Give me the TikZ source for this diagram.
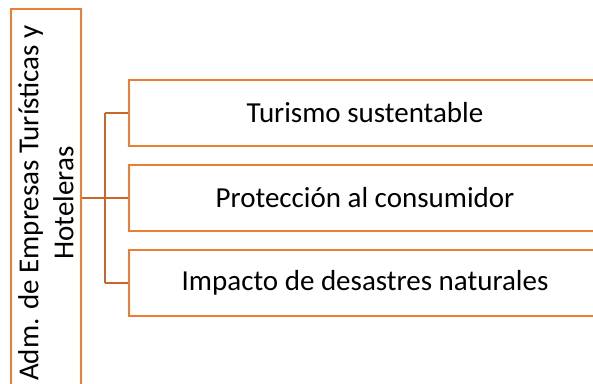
\documentclass[tikz,border=0pt]{standalone}
\usepackage{fontspec}
\setmainfont{Carlito}
\definecolor{boxor}{HTML}{ED7D31}
\definecolor{conor}{HTML}{C8662C}
\begin{document}
\begin{tikzpicture}[x=1pt,y=-1pt,
  box/.style={draw=boxor,line width=2pt,fill=white,inner sep=0pt},
  conn/.style={draw=conor,line width=2pt},
  lbl/.style={font=\fontsize{29}{35}\selectfont,inner sep=0pt}]
\useasboundingbox (0,0) rectangle (593,383);
\begin{scope}
\clip (0,0) rectangle (593,383);
\coordinate (bus) at (105,198);
\node[box, minimum width=70pt, minimum height=388pt] (root) at (46,203) {};
\node[lbl, rotate=90, align=center] (rootlabel) at (root.center) {Adm. de Empresas Turísticas y\\Hoteleras};
\node[box, lbl, minimum width=472pt, minimum height=66pt] (b1) at (365,113) {Turismo sustentable};
\node[box, lbl, minimum width=472pt, minimum height=66pt] (b2) at (365,198) {Protección al consumidor};
\node[box, lbl, minimum width=472pt, minimum height=66pt] (b3) at (365,283) {Impacto de desastres naturales};
\draw[conn] (root.east |- b2.west) -- (b2.west);
\draw[conn] (bus |- b1.west) -- (b1.west);
\draw[conn] (bus |- b1.west) -- (bus |- b3.west);
\draw[conn] (bus |- b3.west) -- (b3.west);
\end{scope}
\end{tikzpicture}
\end{document}
